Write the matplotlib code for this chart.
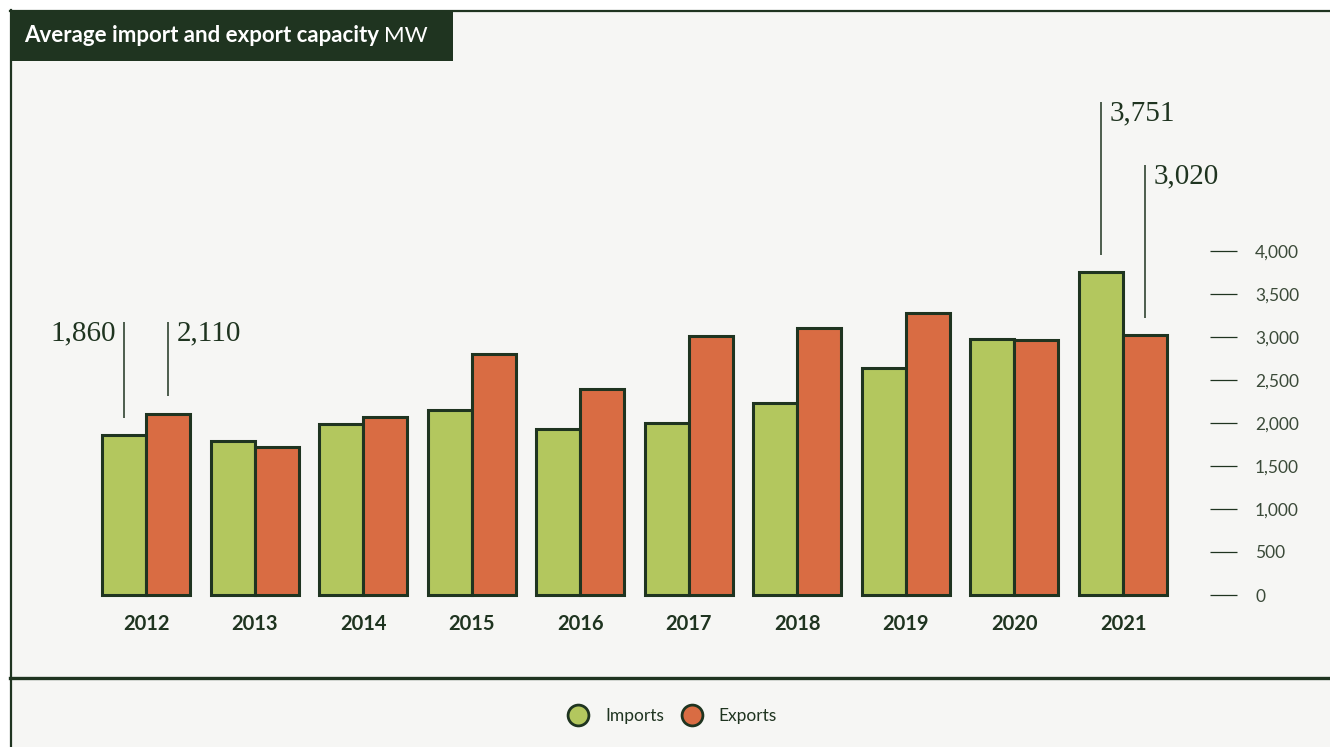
import matplotlib
matplotlib.use("Agg")
import matplotlib.pyplot as plt
from matplotlib.lines import Line2D
from matplotlib.patches import Rectangle
from matplotlib.ticker import FuncFormatter
import numpy as np

# ---- data (MW) ----
years = ["2012", "2013", "2014", "2015", "2016", "2017", "2018", "2019", "2020", "2021"]
imports = [1860, 1790, 1990, 2150, 1930, 2000, 2230, 2635, 2975, 3751]
exports = [2110, 1720, 2070, 2800, 2395, 3010, 3100, 3280, 2960, 3020]
y_ticks = [0, 500, 1000, 1500, 2000, 2500, 3000, 3500, 4000]

# ---- style ----
DARK = "#1f3420"
PANEL = "#f6f6f4"
GREEN = "#b3c75e"
ORANGE = "#d96c43"
TICK_TXT = "#3b4a39"

W, H, DPI = 1330, 747, 100
fig = plt.figure(figsize=(W / DPI, H / DPI), dpi=DPI, facecolor="white")


def fx(px):
    return px / W


def fy(py):
    return 1 - py / H


# panel background and frame lines
fig.patches.append(Rectangle((fx(10), 0), 1 - fx(10), fy(10), transform=fig.transFigure,
                             facecolor=PANEL, edgecolor="none", zorder=-5))
fig.add_artist(Line2D([fx(10), 1], [fy(11), fy(11)], transform=fig.transFigure, color=DARK, lw=1.6))
fig.add_artist(Line2D([fx(10.5), fx(10.5)], [fy(10), 0], transform=fig.transFigure, color=DARK, lw=1.6))
fig.add_artist(Line2D([fx(10), 1], [fy(678), fy(678)], transform=fig.transFigure, color=DARK, lw=2.4))

# title block: bold title followed by the unit in regular weight
fig.patches.append(Rectangle((fx(10), fy(61)), fx(443), fy(10) - fy(61), transform=fig.transFigure,
                             facecolor=DARK, edgecolor="none", zorder=1))
t1 = fig.text(fx(24), fy(36), "Average import and export capacity", color="white",
              fontsize=16, fontweight="bold", family="Lato", va="center", ha="left", zorder=2)
fig.canvas.draw()
t1_right = t1.get_window_extent(fig.canvas.get_renderer()).x1
fig.text(t1_right / W + fx(5), fy(36), "MW", color="white", fontsize=16, fontweight="normal",
         family="Lato", va="center", ha="left", zorder=2)

# ---- axes: group i centred at pixel 146 + i*108.56, zero line at pixel 595 ----
px_per_group = 108.56
px_per_mw = 0.086
ax_left, ax_right = 40, 1237
ax_bottom, ax_top = 595, 70
ax = fig.add_axes([fx(ax_left), fy(ax_bottom), fx(ax_right - ax_left), fy(ax_top) - fy(ax_bottom)])
ax.set_facecolor("none")
ax.set_xlim((ax_left - 146) / px_per_group, (ax_right - 146) / px_per_group)
ax.set_ylim(0, (ax_bottom - ax_top) / px_per_mw)

x = np.arange(len(years))
bw = 44 / px_per_group
ax.bar(x - bw / 2, imports, width=bw, color=GREEN, edgecolor=DARK, linewidth=2.2,
       clip_on=False, zorder=3)
ax.bar(x + bw / 2, exports, width=bw, color=ORANGE, edgecolor=DARK, linewidth=2.2,
       clip_on=False, zorder=3)

for s in ax.spines.values():
    s.set_visible(False)

ax.set_xticks(x, years)
ax.tick_params(axis="x", length=0, pad=14, labelsize=14.5, labelcolor=DARK)
for lbl in ax.get_xticklabels():
    lbl.set_fontfamily("Lato")
    lbl.set_fontweight("bold")

ax.yaxis.tick_right()
ax.set_yticks(y_ticks)
ax.yaxis.set_major_formatter(FuncFormatter(lambda v, p: f"{v:,.0f}"))
ax.tick_params(axis="y", direction="in", length=19.5, width=0.9, color=DARK,
               pad=13, labelsize=12.5, labelcolor=TICK_TXT)
for lbl in ax.get_yticklabels():
    lbl.set_fontfamily("Lato")
    lbl.set_ha("left")

# ---- value callouts: (group, series side, value, line length in MW, text side) ----
gap = 200
label_top_2012 = (595 - 322) / px_per_mw
callouts = [
    (0, -1, imports[0], None, "left"),
    (0, 1, exports[0], None, "right"),
    (9, -1, imports[9], 1780, "right"),
    (9, 1, exports[9], 1780, "right"),
]
for gi, side, val, length, tside in callouts:
    xc = gi + side * bw / 2
    y0 = val + gap
    y1 = label_top_2012 if length is None else y0 + length
    ax.vlines(xc, y0, y1, color=DARK, lw=1.1, zorder=2, clip_on=False)
    off = -8 if tside == "left" else 9
    ax.annotate(f"{val:,}", xy=(xc, y1), xytext=(off, 2), textcoords="offset pixels",
                ha="right" if tside == "left" else "left", va="top", fontsize=21,
                family="Liberation Serif", color=DARK, annotation_clip=False)

# ---- legend ----
handles = [Line2D([], [], ls="", marker="o", markersize=15, markerfacecolor=c,
                  markeredgecolor=DARK, markeredgewidth=2) for c in (GREEN, ORANGE)]
leg = fig.legend(handles, ["Imports", "Exports"], loc="center", ncol=2, frameon=False,
                 bbox_to_anchor=(fx(669), fy(716)), handletextpad=0.55, columnspacing=0.6,
                 prop={"family": "Lato", "size": 12.5})
for t in leg.get_texts():
    t.set_color(DARK)

fig.savefig("out.png", dpi=DPI, facecolor=fig.get_facecolor())
